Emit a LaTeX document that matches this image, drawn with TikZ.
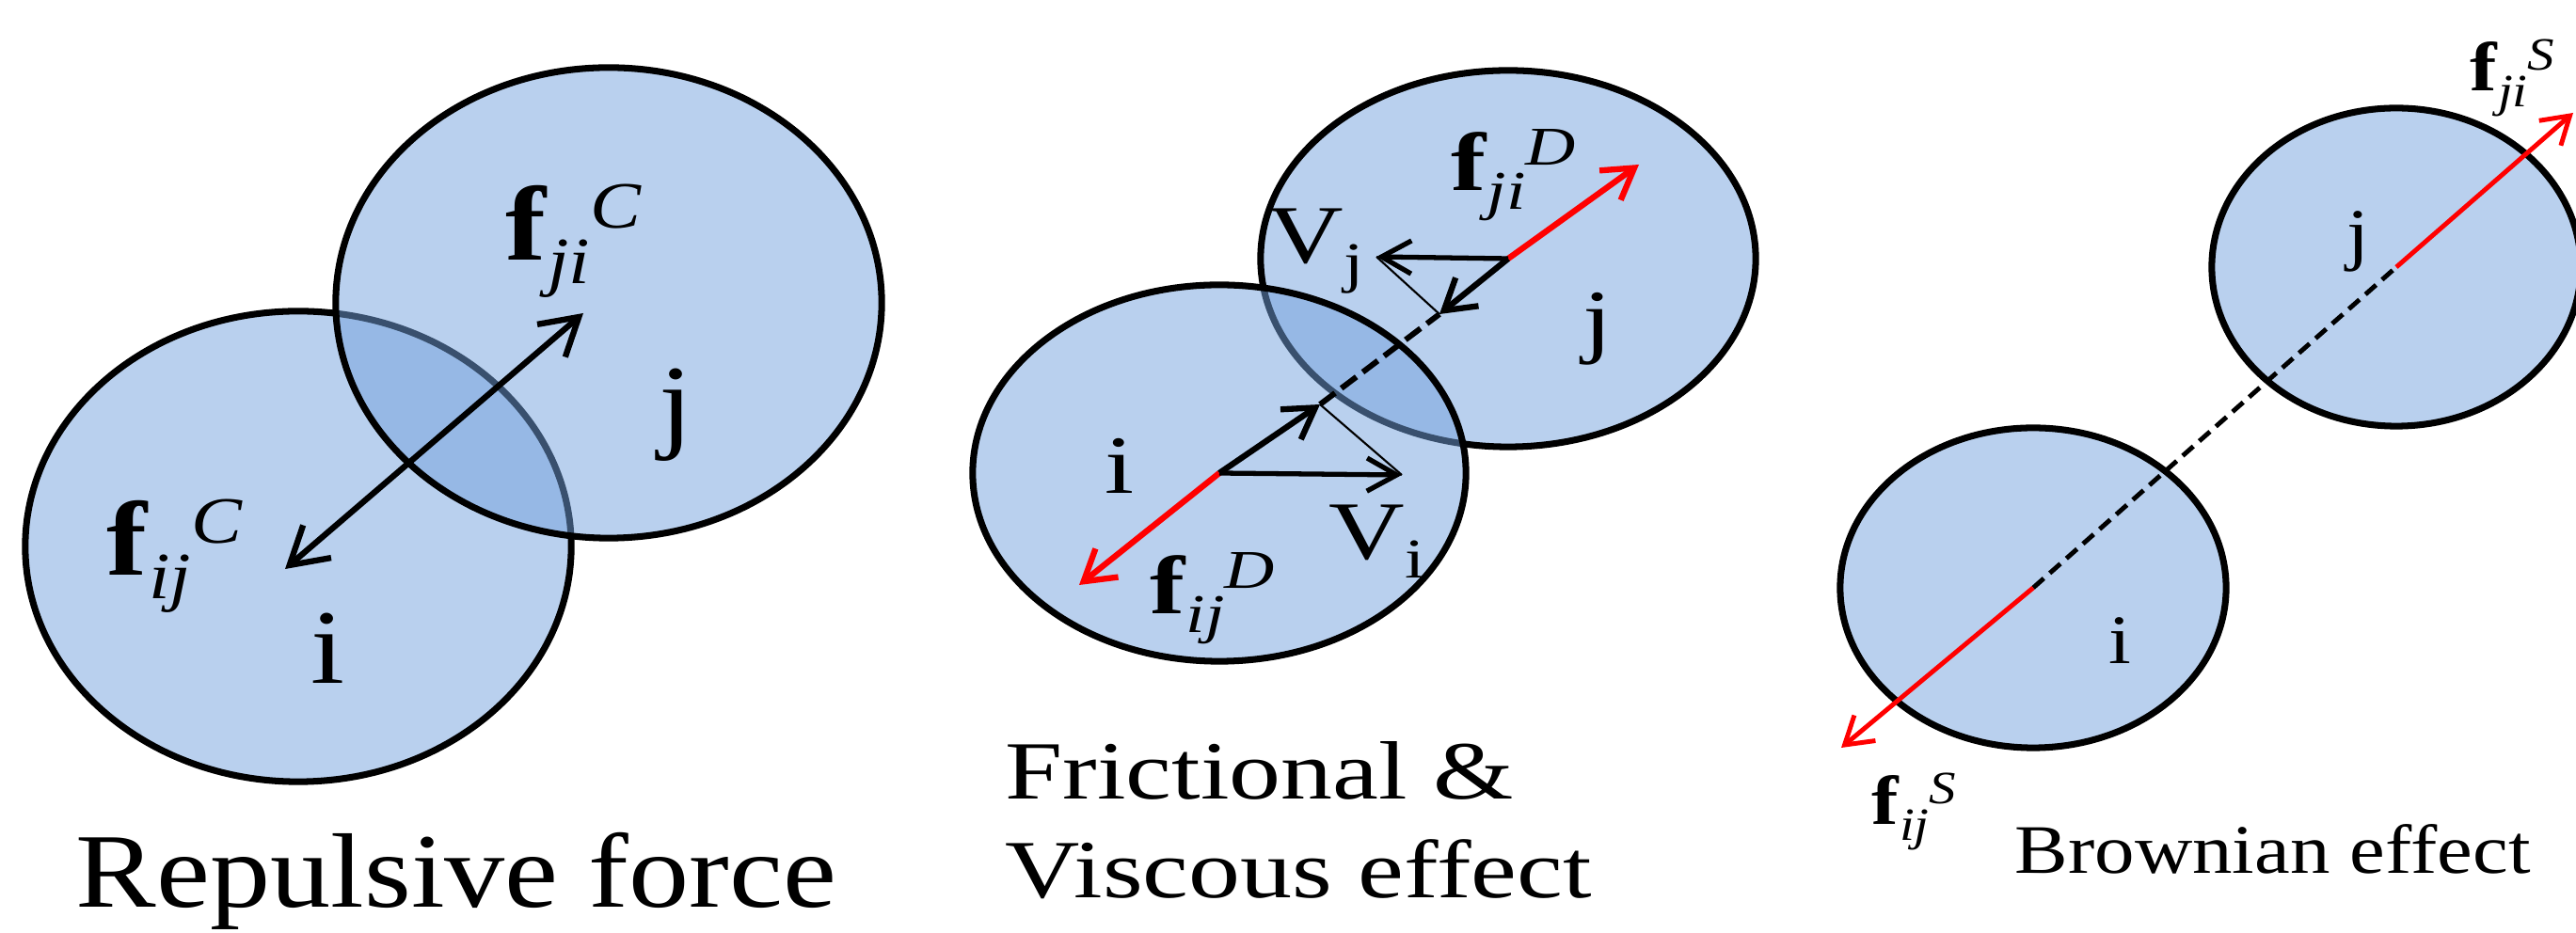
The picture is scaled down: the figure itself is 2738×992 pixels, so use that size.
\documentclass[tikz,border=0pt]{standalone}
\usepackage{fontspec}
\setmainfont{Liberation Serif}
\usepackage{graphicx}
\usetikzlibrary{arrows.meta, shapes.geometric}
\definecolor{particlebg}{HTML}{73A1DD}
\definecolor{forcered}{HTML}{FF0000}
\newcommand{\hstretch}[2]{\scalebox{#1}[1]{#2}}
\newcommand{\fvec}[3]{\textbf{f}\raisebox{-0.22em}{\fontsize{#3}{#3}\selectfont\textit{#1}}\raisebox{0.31em}{\fontsize{#3}{#3}\selectfont\textit{#2}}}
\newcommand{\vel}[2]{V\raisebox{-0.22em}{\fontsize{#2}{#2}\selectfont #1}}
\tikzset{
  particle/.style={
    ellipse,
    draw=black,
    line width=2pt,
    fill=particlebg,
    fill opacity=0.5,
    inner sep=0pt
  },
  pair force/.style={
    {Straight Barb[length=11pt,width=13pt]}-{Straight Barb[length=11pt,width=13pt]},
    line width=1.8pt
  },
  normal arrow/.style={-{Straight Barb[length=9pt,width=11pt]}, line width=1.8pt},
  vel arrow/.style={-{Straight Barb[length=9pt,width=10pt]}, line width=1.5pt},
  drag arrow/.style={-{Straight Barb[length=9pt,width=11pt]}, line width=1.8pt, color=forcered},
  random arrow/.style={-{Straight Barb[length=8pt,width=10pt]}, line width=1.4pt, color=forcered},
  proj line/.style={line width=0.6pt},
  link/.style={dash pattern=on 5.7pt off 2.4pt, line width=1.7pt},
  thin link/.style={dash pattern=on 4.3pt off 2.4pt, line width=1.4pt},
  tag/.style={inner sep=0pt, anchor=base},
  tag left/.style={inner sep=0pt, anchor=base west},
  text one/.style={font=\fontsize{32}{38}\selectfont},
  text two/.style={font=\fontsize{25}{30}\selectfont},
  text three/.style={font=\fontsize{21}{25}\selectfont}
}

\begin{document}
\begin{tikzpicture}[x=0.01cm, y=-0.01cm]
  \useasboundingbox (0,0) rectangle (2738,992);

  % repulsive force
  \node[particle, minimum width=5.8cm, minimum height=5cm] (p1i) at (317,581) {};
  \node[particle, minimum width=5.8cm, minimum height=5cm] (p1j) at (647,322) {};
  \coordinate (t1i) at (303,605);
  \coordinate (t1j) at (620,333);
  \draw[pair force] (t1i) -- (t1j);
  \node[tag left, text one] (f1ij) at (113,612) {\hstretch{1.15}{\fvec{ij}{C}{20}}};
  \node[tag left, text one] (f1ji) at (537,277) {\hstretch{1.15}{\fvec{ji}{C}{20}}};
  \node[tag, text one] (l1i) at (348,727) {\hstretch{1.15}{i}};
  \node[tag, text one] (l1j) at (718,467) {\hstretch{1.15}{j}};
  \node[tag left, text one] (cap1) at (80,965) {\hstretch{1.14}{Repulsive force}};

  % frictional and viscous effect
  \node[particle, minimum width=5.26cm, minimum height=4cm] (p2j) at (1603,275) {};
  \node[particle, minimum width=5.24cm, minimum height=4cm] (p2i) at (1296,503) {};
  \coordinate (n2i) at (1403,430);
  \coordinate (n2j) at (1530,334);
  \coordinate (v2i) at (1490,505);
  \coordinate (v2j) at (1463,273);
  \coordinate (d2i) at (1147,622);
  \coordinate (d2j) at (1742,175);
  \draw[link] (n2i) -- (n2j);
  \draw[proj line] (v2i) -- (n2i);
  \draw[proj line] (v2j) -- (n2j);
  \draw[drag arrow] (p2i.center) -- (d2i);
  \draw[drag arrow] (p2j.center) -- (d2j);
  \draw[normal arrow] (p2i.center) -- (n2i);
  \draw[normal arrow] (p2j.center) -- (n2j);
  \draw[vel arrow] (p2i.center) -- (v2i);
  \draw[vel arrow] (p2j.center) -- (v2j);
  \node[tag left, text two] (f2ij) at (1222,653) {\hstretch{1.27}{\fvec{ij}{D}{16.5}}};
  \node[tag left, text two] (f2ji) at (1542,203) {\hstretch{1.27}{\fvec{ji}{D}{16.5}}};
  \node[tag left, text two] (v2il) at (1412,595) {\hstretch{1.27}{\vel{i}{17}}};
  \node[tag left, text two] (v2jl) at (1347,280) {\hstretch{1.27}{\vel{j}{17}}};
  \node[tag, text two] (l2i) at (1190,525) {\hstretch{1.27}{i}};
  \node[tag, text two] (l2j) at (1698,370) {\hstretch{1.27}{j}};
  \node[tag left, text two] (cap2a) at (1068,850) {\hstretch{1.25}{Frictional \&}};
  \node[tag left, text two] (cap2b) at (1068,955) {\hstretch{1.25}{Viscous effect}};

  % brownian effect
  \node[particle, minimum width=4.1cm, minimum height=3.4cm] (p3i) at (2161,625) {};
  \node[particle, minimum width=3.92cm, minimum height=3.38cm] (p3j) at (2547,284) {};
  \coordinate (r3i) at (1957,795);
  \coordinate (r3j) at (2735,120);
  \draw[thin link] (p3i.center) -- (p3j.center);
  \draw[random arrow] (p3i.center) -- (r3i);
  \draw[random arrow] (p3j.center) -- (r3j);
  \node[tag left, text three] (f3ij) at (1989,877) {\hstretch{1.16}{\fvec{ij}{S}{14}}};
  \node[tag left, text three] (f3ji) at (2625,97) {\hstretch{1.16}{\fvec{ji}{S}{14}}};
  \node[tag, text three] (l3i) at (2253,706) {\hstretch{1.16}{i}};
  \node[tag, text three] (l3j) at (2506,274) {\hstretch{1.16}{j}};
  \node[tag left, text three] (cap3) at (2141,929) {\hstretch{1.15}{Brownian effect}};
\end{tikzpicture}
\end{document}
